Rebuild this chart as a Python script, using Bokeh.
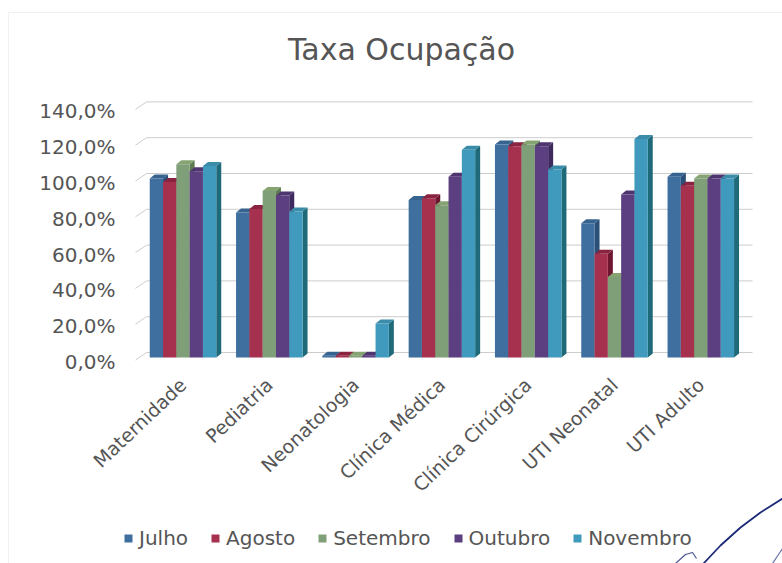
from bokeh.plotting import figure
from bokeh.embed import file_html
from bokeh.resources import INLINE
from bokeh.models import (Range1d, LinearAxis, FixedTicker, Legend, LegendItem, Label,
                          BoxAnnotation, ColumnDataSource)

categories = ["Maternidade", "Pediatria", "Neonatologia", "Clínica Médica",
              "Clínica Cirúrgica", "UTI Neonatal", "UTI Adulto"]
julho = [100, 81, 1, 88, 119, 75, 101]
agosto = [98, 83, 1, 89, 118, 58, 96]
setembro = [108, 93, 1, 85, 119, 45, 100]
outubro = [104, 90.5, 1, 101, 118, 91, 100]
novembro = [107, 81.5, 19, 116, 105, 122, 100]
series_names = ["Julho", "Agosto", "Setembro", "Outubro", "Novembro"]
series_values = [julho, agosto, setembro, outubro, novembro]
front_colors = ["#3f6f9f", "#a5314f", "#7f9f78", "#5c3f80", "#3f9abd"]
side_colors = ["#2b5078", "#6e1530", "#5d7a50", "#3f2a5f", "#1f6a78"]
top_colors = ["#36638f", "#8a2340", "#86a472", "#4e3570", "#3a8ca8"]
y_ticks = [0, 20, 40, 60, 80, 100, 120, 140]
y_tick_labels = ["0,0%", "20,0%", "40,0%", "60,0%", "80,0%", "100,0%", "120,0%", "140,0%"]

W, H = 782, 563
PX = 86.3      # pixels per category
PY = 1.79      # pixels per percent
X0, Y0 = 182.5, 357  # pixel of category 0 / of zero
BAR = 13.3 / PX
DX = 5 / PX
DY = 4 / PY
GX = 11 / PX   # wall depth of the grid
GY = 7.5 / PY


def xd(px):
    return (px - X0) / PX


def yd(py):
    return (Y0 - py) / PY


p = figure(width=W, height=H, output_backend="svg", toolbar_location=None,
           x_range=Range1d(xd(0), xd(W)), y_range=Range1d(yd(H), yd(0)),
           min_border=0, min_border_left=0, min_border_right=0, min_border_top=0,
           min_border_bottom=0, x_axis_type=None, y_axis_type=None, outline_line_color=None,
           background_fill_color="#ffffff", border_fill_color="#ffffff")
p.grid.visible = False

# chart frame
p.add_layout(BoxAnnotation(left=xd(8), right=xd(790), top=yd(12), bottom=yd(600),
                           fill_alpha=0, line_color="#d0d0d0", line_width=1))

# grid on the back wall, with its slanted stub on the side wall
gx_left = xd(135)
gx_back = gx_left + GX
gx_right = xd(752)
for t in y_ticks:
    yf = t - 1.4
    p.line([gx_left, gx_back, gx_right], [yf, yf + GY, yf + GY], line_color="#cccccc", line_width=1)

legend_items = []
for j, (name, vals) in enumerate(zip(series_names, series_values)):
    xc = [i + (j - 2) * BAR for i in range(len(vals))]
    side_x, side_y, top_x, top_y = [], [], [], []
    for x, v in zip(xc, vals):
        r = x + BAR / 2
        l = x - BAR / 2
        side_x.append([r, r + DX, r + DX, r])
        side_y.append([0, DY, v + DY, v])
        top_x.append([l, l + DX, r + DX, r])
        top_y.append([v, v + DY, v + DY, v])
    p.patches(side_x, side_y, fill_color=side_colors[j], line_color=None)
    p.patches(top_x, top_y, fill_color=top_colors[j], line_color=None)
    src = ColumnDataSource(dict(x=xc, top=vals))
    r = p.vbar(x="x", top="top", bottom=0, width=BAR, source=src,
               fill_color=front_colors[j], line_color=None)
    legend_items.append(LegendItem(label=name, renderers=[r]))

yaxis = LinearAxis(ticker=FixedTicker(ticks=y_ticks), y_range_name="labels")
p.extra_y_ranges = {"labels": Range1d(yd(H) + 2.5, yd(0) + 2.5)}
yaxis.major_label_overrides = {t: s for t, s in zip(y_ticks, y_tick_labels)}
yaxis.fixed_location = xd(127)
yaxis.axis_line_color = None
yaxis.major_tick_line_color = None
yaxis.minor_tick_line_color = None
yaxis.major_label_standoff = 6
yaxis.major_label_text_font = "DejaVu Sans"
yaxis.major_label_text_font_size = "20px"
yaxis.major_label_text_color = "#555555"
p.add_layout(yaxis, "left")

xaxis = LinearAxis(ticker=FixedTicker(ticks=list(range(len(categories)))))
xaxis.major_label_overrides = {i: c for i, c in enumerate(categories)}
xaxis.fixed_location = yd(371)
xaxis.major_label_orientation = 0.76
xaxis.axis_line_color = None
xaxis.major_tick_line_color = None
xaxis.minor_tick_line_color = None
xaxis.major_label_standoff = 4
xaxis.major_label_text_font = "DejaVu Sans"
xaxis.major_label_text_font_size = "19px"
xaxis.major_label_text_color = "#555555"
p.add_layout(xaxis, "below")

p.add_layout(Label(x=xd(401), y=yd(49), text="Taxa Ocupação", text_font="DejaVu Sans",
                   text_font_size="30px", text_color="#555555", text_align="center",
                   text_baseline="middle"))

legend = Legend(items=legend_items, orientation="horizontal", location=(123, 13),
                background_fill_alpha=0, border_line_color=None,
                label_text_font="DejaVu Sans", label_text_font_size="20px",
                label_text_color="#555555", glyph_width=10, glyph_height=10,
                label_standoff=6, spacing=22, padding=0, margin=0)
p.add_layout(legend, "center")

# pen signature over the corner of the page
p.line([xd(x) for x in (782, 760, 740, 720, 703)], [yd(y) for y in (498, 512, 527, 545, 563)],
       line_color="#1c2a78", line_width=1.8)
p.line([xd(x) for x in (675, 685, 692, 696)], [yd(y) for y in (563, 554, 552, 558)],
       line_color="#4a5590", line_width=1.2)
p.line([xd(x) for x in (782, 772)], [yd(y) for y in (548, 563)],
       line_color="#6a74a8", line_width=1.2)

open("out.html", "w").write(file_html(p, INLINE))
